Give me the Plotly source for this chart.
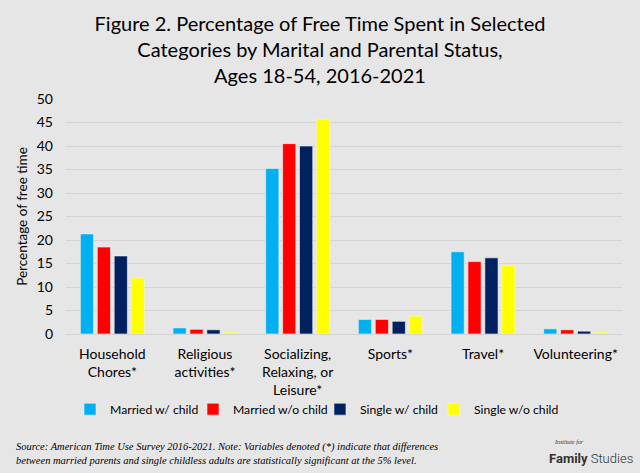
import plotly.graph_objects as go

categories = ["Household<br>Chores*", "Religious<br>activities*", "Socializing,<br>Relaxing, or<br>Leisure*",
              "Sports*", "Travel*", "Volunteering*"]
series_names = ["Married w/ child", "Married w/o child", "Single w/ child", "Single w/o child"]
married_child = [21.3, 1.3, 35.2, 3.1, 17.5, 1.1]
married_nochild = [18.5, 1.0, 40.5, 3.1, 15.4, 0.9]
single_child = [16.6, 0.9, 40.0, 2.7, 16.2, 0.6]
single_nochild = [11.9, 0.4, 45.7, 3.8, 14.6, 0.4]
colors = ["#00B0F0", "#FF0000", "#002060", "#FFFF00"]
yticks = [0, 5, 10, 15, 20, 25, 30, 35, 40, 45, 50]

font_main = "Lato, 'Open Sans', sans-serif"
legend_ids = ["legend", "legend2", "legend3", "legend4"]
legend_x = [0.0072, 0.2284, 0.4568, 0.6619]

fig = go.Figure()
for name, vals, c, lid in zip(series_names, [married_child, married_nochild, single_child, single_nochild], colors, legend_ids):
    fig.add_trace(go.Bar(x=categories, y=vals, name=name, legend=lid,
                         marker=dict(color=c, line=dict(color="#f4f4f4", width=0.6))))

legend_common = dict(orientation="h", xanchor="left", y=-0.258, yanchor="top",
                     font=dict(size=12.2), itemwidth=30, bgcolor="rgba(0,0,0,0)")
layout_legends = {lid: dict(x=lx, **legend_common) for lid, lx in zip(legend_ids, legend_x)}

fig.update_layout(
    width=640, height=473,
    paper_bgcolor="#E7E6E6", plot_bgcolor="#E7E6E6",
    margin=dict(l=66, r=18, t=99, b=139, autoexpand=False),
    barmode="group", bargap=0.27, bargroupgap=0.22,
    font=dict(family=font_main, size=14, color="#000000"),
    title=dict(text="Figure 2. Percentage of Free Time Spent in Selected<br>Categories by Marital and Parental Status,<br>Ages 18-54, 2016-2021",
               x=0.5, xanchor="center", yref="container", y=0.934, yanchor="top",
               font=dict(family=font_main, size=20, color="#000000")),
    showlegend=True,
    **layout_legends,
)
fig.update_yaxes(range=[0, 50], tickvals=yticks, showgrid=True, gridcolor="#D4D4D4", gridwidth=1,
                 zeroline=False, showline=False, ticks="", tickfont=dict(size=14), ticklabelstandoff=12,
                 title=dict(text="Percentage of free time", font=dict(size=13.5), standoff=6))
fig.update_xaxes(showline=True, linecolor="#D4D4D4", ticks="", tickfont=dict(size=14), ticklabelstandoff=7)

fig.add_annotation(xref="paper", yref="paper", x=-0.0935, y=-0.445, xanchor="left", yanchor="top",
                   align="left", showarrow=False,
                   text="<i>Source: American Time Use Survey 2016-2021. Note: Variables denoted (*) indicate that differences<br>between married parents and single childless adults are statistically significant at the 5% level.</i>",
                   font=dict(family="Liberation Serif, serif", size=10.5, color="#000000"))
fig.add_annotation(xref="paper", yref="paper", x=0.874, y=-0.44, xanchor="left", yanchor="top",
                   showarrow=False, text="<i>Institute for</i>",
                   font=dict(family="Liberation Serif, serif", size=6, color="#333333"))
fig.add_annotation(xref="paper", yref="paper", x=0.866, y=-0.49, xanchor="left", yanchor="top",
                   showarrow=False, text="<b>Family</b> Studies",
                   font=dict(family="Roboto, sans-serif", size=13, color="#333333", weight=300))

fig.write_html("out.html", config={"displayModeBar": False},
               post_script="document.body.style.margin='0';document.body.style.background='#E7E6E6';")
